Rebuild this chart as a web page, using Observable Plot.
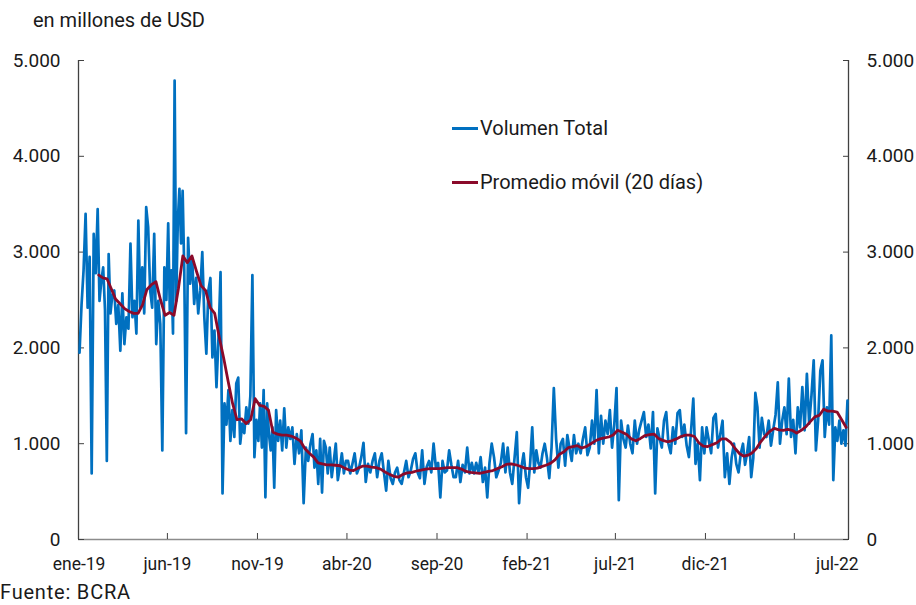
<!DOCTYPE html>
<html><head><meta charset="utf-8">
<script src="https://cdn.jsdelivr.net/npm/d3@7"></script>
<script src="https://cdn.jsdelivr.net/npm/@observablehq/plot@0.6"></script>
<style>
body{margin:0;background:#fff;font-family:Roboto,sans-serif;}
#wrap{position:relative;width:916px;height:605px;overflow:hidden;}
.t{position:absolute;font-size:20px;line-height:22px;color:#1a1a1a;white-space:nowrap;}
.sw{position:absolute;width:26px;height:3px;}
</style></head><body>
<div id="wrap">
<div class="t" style="left:33px;top:9px">en millones de USD</div>
<div id="chart" style="position:absolute;left:0;top:40px"></div>
<div class="sw" style="left:452px;top:127px;background:#0070C0"></div>
<div class="t" style="left:480px;top:117px">Volumen Total</div>
<div class="sw" style="left:452px;top:181px;background:#8B0A2A"></div>
<div class="t" style="left:480px;top:171px">Promedio móvil (20 días)</div>
<div class="t" style="left:0px;top:582px;font-size:20px;line-height:20px;letter-spacing:0.8px">Fuente: BCRA</div>
</div>
<script>
// Volumen diario (millones de USD), valores leídos por mes (ene-19 a jul-22)
const volumenTotal = [
 [1950,2450,2810,3400,2420,2950,690,3190,2780],
 [3450,2490,2700,2840,2400,820,2980,2360,2550],
 [2600,2250,2450,1970,2570,2040,2320,2200,3090],
 [2320,2490,2150,3330,2420,2840,2360,3470,3260],
 [2600,2420,3190,2040,2490,2250,930,2840,2500],
 [3300,2390,2810,2150,4790,2490,3330,3660,3090,3640,2810],
 [1110,3150,2670,2940,2460,2730,2360,2600,3000],
 [2320,1940,2600,2730,1900,2180,1590,2110,2790],
 [480,1420,1200,1560,1030,1350,1070,1630,1690],
 [1000,1210,1110,1380,1210,1500,2760,860,1250],
 [1030,1420,960,1560,440,1420,1100,930,1170,540],
 [1350,1030,1240,930,1370,960,1170,1050,1170],
 [790,1100,900,1140,380,960,820,1000],
 [1100,750,930,580,1050,490,1030,960,690],
 [960,650,820,1000,620,750,900,690,820],
 [820,690,790,900,690,750,860,1010],
 [600,790,700,820,900,650,820,900],
 [700,510,820,640,580,700,750,620],
 [580,700,820,650,720,840,900,700],
 [640,930,580,760,820,700,1000,750],
 [800,440,820,700,720,930,780,650],
 [650,820,600,780,700,960,690,800],
 [690,800,700,860,600,750,440,800],
 [1000,860,650,720,800,1000,700,960],
 [700,580,850,1120,380,750,900,650],
 [540,800,1170,700,930,800,750,900],
 [1000,850,640,960,1580,1050,750,1000],
 [1050,770,1090,950,820,1090,900,1000],
 [900,1050,1170,880,960,1240,1000,1560],
 [900,1290,1000,1240,1100,1350,960,1200],
 [1580,410,1240,1050,960,1190,1000,900],
 [1240,1000,1150,1240,1330,1070,1200,950],
 [1330,480,1160,1050,960,1240,1330,1000],
 [900,1170,1000,1320,1350,1070,1200,980],
 [860,1140,1470,790,1000,620,1170,900],
 [1170,1030,900,1270,1310,960,1100,1240],
 [650,900,580,860,1000,790,700,900],
 [1000,780,900,1070,650,850,1530,1380],
 [960,1270,1100,1070,1240,980,1150,1300],
 [1640,1000,1240,1380,1100,1680,1070,1250],
 [900,1380,1170,1590,1140,1730,1210,1500],
 [1870,930,1240,1760,1870,1070,1380,1200],
 [2130,620,1170,1030,1240,1000,1140,980,1450]
];
// Promedio móvil 20 días, valores leídos por mes (desde feb-19)
const promedioMovil = [
 [],
 [2760,2730,2720,2620],
 [2510,2460,2410,2380],
 [2360,2360,2450,2610],
 [2660,2690,2500,2340],
 [2370,2340,2620,2960],
 [2890,2960,2800,2650],
 [2600,2420,2360,2110],
 [1890,1650,1420,1250],
 [1260,1210,1250,1470],
 [1400,1390,1350,1120],
 [1100,1090,1090,1080],
 [1060,1030,950,900],
 [860,800,790,780],
 [780,775,770,745],
 [725,720,745,765],
 [765,755,750,735],
 [705,680,660,650],
 [680,695,700,715],
 [725,735,740,740],
 [740,745,750,750],
 [750,735,710,700],
 [695,690,700,710],
 [720,740,760,785],
 [790,780,765,745],
 [740,740,745,760],
 [775,795,830,890],
 [915,960,970,980],
 [955,970,1000,1030],
 [1050,1060,1070,1090],
 [1140,1120,1095,1050],
 [1030,1055,1085,1095],
 [1100,1055,1035,1020],
 [1030,1050,1075,1090],
 [1090,1075,1010,975],
 [970,990,1010,1050],
 [1050,1015,950,895],
 [870,880,905,950],
 [1020,1080,1130,1160],
 [1145,1140,1150,1140],
 [1110,1140,1175,1230],
 [1280,1295,1360,1340],
 [1340,1330,1250,1170]
];
const ticksY = [0,1000,2000,3000,4000,5000];
const etiquetasX = ["ene-19","jun-19","nov-19","abr-20","sep-20","feb-21","jul-21","dic-21","jul-22"];
const fechasEtiquetas = ["2019-01-02","2019-06-01","2019-11-01","2020-04-01","2020-09-01","2021-02-01","2021-07-01","2021-12-01","2022-07-13"];
const marcasX = ["2019-06-01","2019-11-01","2020-04-01","2020-09-01","2021-02-01","2021-07-01","2021-12-01","2022-05-01"];
const xDominio = [new Date(2019,0,1), new Date(2022,7,1)];

function aSerie(porMes){
  const out = [];
  porMes.forEach((vals, m) => {
    const a = new Date(2019, m, 1), b = new Date(2019, m + 1, 1);
    vals.forEach((v, k) => out.push({fecha: new Date(+a + (k + 0.5) / vals.length * (b - a)), valor: v}));
  });
  return out;
}
const serieVol = aSerie(volumenTotal);
const serieProm = aSerie(promedioMovil);
const parse = s => { const [y,m,d] = s.split("-").map(Number); return new Date(y, m-1, d); };
const fEtiq = fechasEtiquetas.map(parse);
const fMarcas = marcasX.map(parse);
const fmt = d3.formatLocale({decimal: ",", thousands: ".", grouping: [3], currency: ["$",""]}).format(",");

const chart = Plot.plot({
  width: 916, height: 540,
  marginLeft: 78, marginRight: 68, marginTop: 20, marginBottom: 41,
  style: {fontSize: "19px", fontFamily: "Roboto, sans-serif", color: "#1a1a1a", background: "transparent"},
  x: {type: "time", domain: xDominio},
  y: {domain: [0, 5000]},
  marks: [
    Plot.ruleY([0], {stroke: "#8c8c8c", strokeWidth: 1.3}),
    Plot.ruleX(xDominio, {stroke: "#404040", strokeWidth: 1.3}),
    Plot.axisY({anchor: "left", label: null, ticks: ticksY, tickSize: 0, tickPadding: 18, tickFormat: fmt, fill: "#1a1a1a"}),
    Plot.axisY({anchor: "left", label: null, ticks: ticksY, tickSize: -6, tickFormat: () => "", stroke: "#404040"}),
    Plot.axisY({anchor: "right", label: null, ticks: ticksY, tickSize: 0, tickPadding: 18, tickFormat: fmt, fill: "#1a1a1a"}),
    Plot.axisY({anchor: "right", label: null, ticks: ticksY, tickSize: -6, tickFormat: () => "", stroke: "#404040"}),
    Plot.axisX({label: null, ticks: fMarcas, tickSize: -6, tickFormat: () => "", stroke: "#404040"}),
    Plot.axisX({label: null, ticks: fEtiq, tickSize: 0, tickPadding: 18, fill: "#1a1a1a", fontSize: 17.5,
      tickFormat: d => etiquetasX[fEtiq.findIndex(f => +f === +d)]}),
    Plot.line(serieVol, {x: "fecha", y: "valor", stroke: "#0070C0", strokeWidth: 2.7, strokeLinejoin: "round"}),
    Plot.line(serieProm, {x: "fecha", y: "valor", stroke: "#8B0A2A", strokeWidth: 2.8, strokeLinejoin: "round"})
  ]
});
document.getElementById("chart").appendChild(chart);
</script>
</body></html>
